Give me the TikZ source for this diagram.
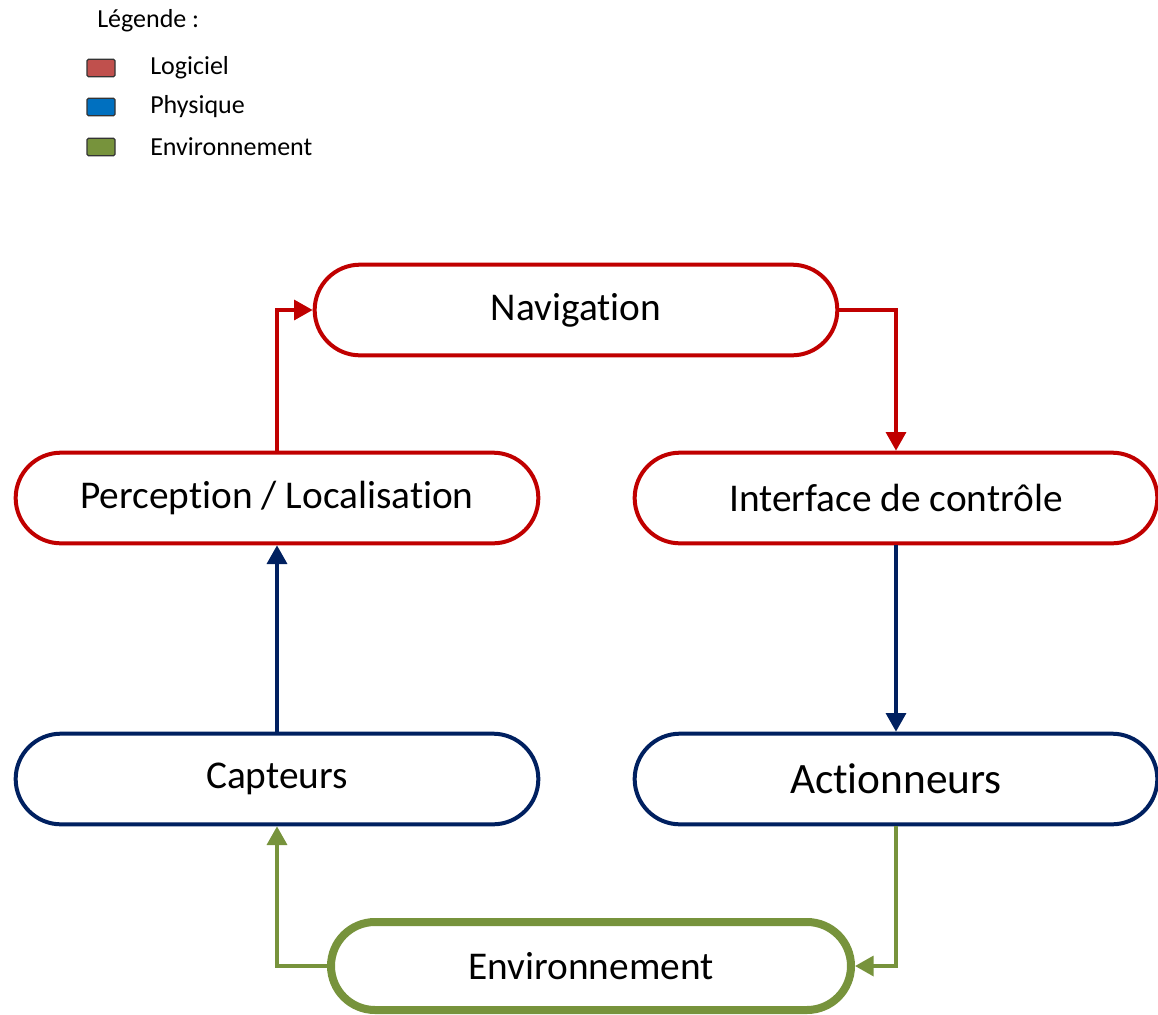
\documentclass[tikz,border=0pt]{standalone}
\usepackage{fontspec}
\setmainfont{Carlito}[Ligatures=NoCommon]
\usepackage{xcolor}
\usetikzlibrary{arrows.meta,shapes.misc,positioning}

\definecolor{logred}{HTML}{C00000}
\definecolor{phynavy}{HTML}{002060}
\definecolor{envgreen}{HTML}{77933C}

\tikzset{
  bloc/.style={draw, rounded rectangle, line width=3pt, fill=white,
    minimum width=392pt, minimum height=68pt, inner sep=0pt,
    font=\fontsize{29.5}{35}\selectfont},
  logiciel/.style={bloc, draw=logred},
  physique/.style={bloc, draw=phynavy},
  environ/.style={bloc, draw=envgreen, line width=6pt, minimum width=390pt, minimum height=66pt},
  flux/.style={line width=2.6pt, -{Triangle[length=14pt,width=15pt]}},
  legbox/.style={draw=black!80, line width=0.9pt, rounded corners=1pt, minimum width=21pt, minimum height=13pt, inner sep=0pt},
  legtext/.style={anchor=west, inner sep=0pt, font=\fontsize{19.5}{23}\selectfont}
}

\begin{document}
\begin{tikzpicture}[x=0.75pt,y=-0.75pt]
\useasboundingbox (0,0) rectangle (1158,1015);

% Legend
\node[legtext] (legtitre) at (97,21) {Légende :};
\node[legbox, fill={rgb,255:red,192;green,80;blue,77}] (cleg1) at (101,68) {};
\node[legbox, fill={rgb,255:red,0;green,112;blue,192}] (cleg2) at (101,107) {};
\node[legbox, fill=envgreen] (cleg3) at (101,147) {};
\node[legtext] (leg1) at (150,68) {Logiciel};
\node[legtext] (leg2) at (150,107) {Physique};
\node[legtext] (leg3) at (150,147) {Environnement};

% Blocks
\node[logiciel] (nav) at (576,310) {Navigation};
\node[logiciel] (percep) at (277,498) {Perception / Localisation};
\node[logiciel] (interf) at (896,498) {Interface de contrôle};
\node[physique] (capt) at (277,779) {Capteurs};
\node[physique, font=\fontsize{32.5}{38}\selectfont] (action) at (896,779) {Actionneurs};
\node[environ] (envir) at (591,966) {Environnement};

% Flows
\draw[flux, draw=logred] (percep.north) |- (nav.west);
\draw[flux, draw=logred] (nav.east) -| (interf.north);
\draw[flux, draw=phynavy] (interf.south) -- (action.north);
\draw[flux, draw=phynavy] (capt.north) -- (percep.south);
\draw[flux, draw=envgreen] (action.south) |- (envir.east);
\draw[flux, draw=envgreen] (envir.west) -| (capt.south);

\end{tikzpicture}
\end{document}
